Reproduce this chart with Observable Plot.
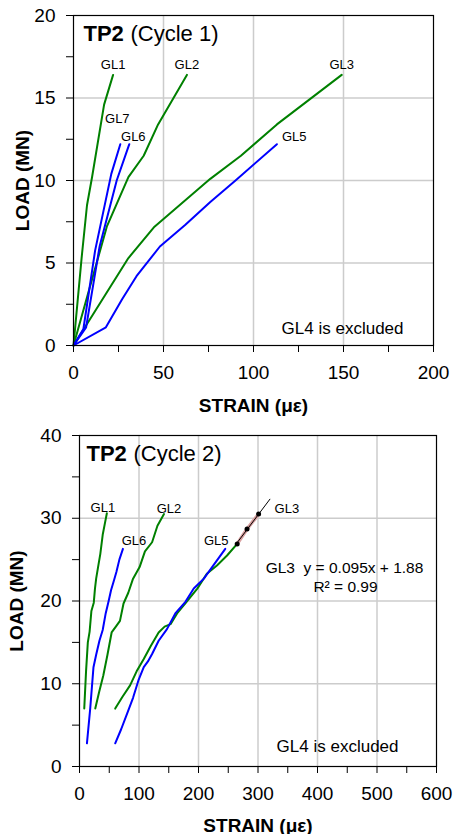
<!DOCTYPE html>
<html><head><meta charset="utf-8">
<script src="https://cdn.jsdelivr.net/npm/d3@7"></script>
<script src="https://cdn.jsdelivr.net/npm/@observablehq/plot@0.6"></script>
<style>
body{margin:0;background:#fff;font-family:"Liberation Sans",Arial,sans-serif;}
#c1,#c2{display:block;line-height:0}
svg{display:block;overflow:visible}
</style></head><body>
<div id="c1"></div><div id="c2"></div>
<script>
// ---------- Cycle 1 data ----------
const c1Series = ["GL1","GL2","GL3","GL5","GL6","GL7"];
const c1GL1 = [[0,0],[4.5,5.3],[7.5,8.5],[10.3,10.2],[17,14.6],[22,16.4]];
const c1GL2 = [[0,0],[18.5,7.2],[30.5,10.2],[39,11.5],[47,13.4],[63,16.4]];
const c1GL3 = [[0,0],[30.5,5.3],[45,7.2],[76,10.1],[93,11.5],[113,13.4],[149,16.4]];
const c1GL5 = [[0,0],[18,1.1],[27,2.8],[35,4.2],[48,6],[62,7.3],[76,8.7],[90,10],[113,12.2]];
const c1GL6 = [[0,0],[7,1.1],[14.5,6],[24,10],[31,12.2]];
const c1GL7 = [[0,0],[5.5,1.0],[12,5.75],[21,10.4],[26,12.2]];
const c1Ticks = {xAll:[0,25,50,75,100,125,150,175,200], xMajor:[0,50,100,150,200],
                 yAll:[0,2.5,5,7.5,10,12.5,15,17.5,20], yMajor:[0,5,10,15,20]};

// ---------- Cycle 2 data ----------
const c2Series = ["GL1","GL2","GL3","GL5","GL6"];
const c2GL1 = [[8,7],[11,11.5],[14,15],[17,16.3],[20,18.8],[24,19.8],[26,21.5],[28,22.7],[31,24],[35,25.7],[39,28],[43,29.5],[46,30.6]];
const c2GL2 = [[26.5,7],[33,9],[40,11],[47,13.5],[54,16.2],[62,17],[68,17.6],[74,19.7],[82,21],[90,22.7],[101,24.1],[110,26],[122,27.1],[131,29.1],[142,30.5]];
const c2GL3 = [[60,7],[72,8.4],[85,9.8],[96,11.5],[108,13],[120,14.6],[133,16.2],[143,16.9],[153,17.2],[164,18.5],[181,20],[198,21.5],[214,23.3],[231,24.3],[248,25.5],[265,26.9]];
const c2GL5 = [[60,2.8],[70,4.5],[80,6.4],[90,8.3],[99,10.4],[108,12],[115,12.7],[122,13.6],[133,15.2],[147,16.6],[161,18.5],[178,19.9],[192,21.5],[209,22.7],[225,24.3],[245,26.3]];
const c2GL6 = [[12.5,2.8],[18,7],[23.5,12],[28,13.5],[33.5,15.2],[39,16.5],[44,18.5],[49,20],[53,21.3],[58,22.5],[62,23.5],[67,25],[73,26.3]];
const c2FitPts = [[265,26.9],[281.6,28.7],[301,30.5]];
const c2Trend = [[265,27.05],[320,32.3]];
const c2Ticks = {xAll:[0,50,100,150,200,250,300,350,400,450,500,550,600], xMajor:[0,100,200,300,400,500,600],
                 yAll:[0,5,10,15,20,25,30,35,40], yMajor:[0,10,20,30,40]};

const titles = [["TP2","(Cycle 1)"],["TP2","(Cycle 2)"]];
const xLabel = "STRAIN (με)";
const yLabel = "LOAD (MN)";
const note = "GL4 is excluded";
const eqText = ["GL3  y = 0.095x + 1.88", "R² = 0.99"];

// ---------- styles ----------
const FONT = "'Liberation Sans', Arial, sans-serif";
const colorOf = {GL1:"#008000",GL2:"#008000",GL3:"#008000",GL5:"#0000ff",GL6:"#0000ff",GL7:"#0000ff"};

function rows(seriesNames, arrs){
  const out = [];
  seriesNames.forEach((s,i)=>arrs[i].forEach(([x,y])=>out.push({series:s,strain:x,load:y})));
  return out;
}

function chart(opts){
  const {series, arrs, ticks, xDomain, yDomain, margins, height, title, titleDx,
         labelPos, yLabelDx, extra, noteDx, noteDy, anchorPoint} = opts;
  const data = rows(series, arrs);
  const labelMarks = series.map((s,i)=>{
    const last = anchorPoint && anchorPoint[s] ? anchorPoint[s] : arrs[i][arrs[i].length-1];
    const p = labelPos[s];
    return Plot.text([{x:last[0],y:last[1],t:s}], {x:"x", y:"y", text:"t", dx:p.dx, dy:p.dy,
      textAnchor:p.anchor, lineAnchor:"middle", fontSize:13, fill:"black"});
  });
  const xMaj = new Set(ticks.xMajor), yMaj = new Set(ticks.yMajor);
  return Plot.plot({
    width:454, height,
    marginTop:margins[0], marginRight:margins[1], marginBottom:margins[2], marginLeft:margins[3],
    style:{fontFamily:FONT, fontSize:"19px", background:"white", overflow:"visible"},
    x:{domain:xDomain, label:null},
    y:{domain:yDomain, label:null},
    marks:[
      Plot.gridX(ticks.xMajor.slice(1,-1), {stroke:"#cccccc", strokeOpacity:1, strokeWidth:1.5}),
      Plot.gridY(ticks.yMajor.slice(1,-1), {stroke:"#cccccc", strokeOpacity:1, strokeWidth:1.5}),
      Plot.line(data, {x:"strain", y:"load", z:"series", stroke:d=>colorOf[d.series], strokeWidth:2}),
      ...(extra||[]),
      Plot.frame({stroke:"black", strokeWidth:1.2}),
      Plot.axisX(ticks.xAll, {tickSize:7, tickPadding:13, label:null, fontSize:19,
        tickFormat:d=>xMaj.has(d)?String(d):""}),
      Plot.axisY(ticks.yAll, {tickSize:7, tickPadding:11, label:null, fontSize:19,
        tickFormat:d=>yMaj.has(d)?String(d):""}),
      ...labelMarks,
      Plot.text([title[0]], {frameAnchor:"top-left", dx:titleDx, dy:18, textAnchor:"start", lineAnchor:"middle", fontWeight:"bold", fontSize:22}),
      Plot.text([title[1]], {frameAnchor:"top-left", dx:titleDx+47, dy:18, textAnchor:"start", lineAnchor:"middle", fontSize:22}),
      Plot.text([yLabel], {frameAnchor:"left", dx:yLabelDx, rotate:-90, textAnchor:"middle", lineAnchor:"middle", fontWeight:"bold", fontSize:19}),
      Plot.text([xLabel], {frameAnchor:"bottom", dy:opts.xLabelDy, textAnchor:"middle", lineAnchor:"middle", fontWeight:"bold", fontSize:19}),
      Plot.text([note], {frameAnchor:"bottom-right", dx:noteDx, dy:noteDy, textAnchor:"end", lineAnchor:"middle", fontSize:17})
    ]
  });
}

const c1 = chart({
  series:c1Series, arrs:[c1GL1,c1GL2,c1GL3,c1GL5,c1GL6,c1GL7], ticks:c1Ticks,
  xDomain:[0,200], yDomain:[0,20], margins:[15,21,75,73], height:420,
  title:titles[0], titleDx:10, yLabelDx:-51, xLabelDy:60, noteDx:-30, noteDy:-17,
  labelPos:{GL1:{dx:0,dy:-10,anchor:"middle"},GL2:{dx:0,dy:-10,anchor:"middle"},GL3:{dx:0,dy:-10,anchor:"middle"},
            GL5:{dx:5,dy:-7,anchor:"start"},GL6:{dx:4,dy:-7,anchor:"middle"},GL7:{dx:-3,dy:-25,anchor:"middle"}}
});
document.getElementById("c1").appendChild(c1);

const fitRows = c2FitPts.map(([x,y])=>({strain:x,load:y}));
const trendRows = c2Trend.map(([x,y])=>({strain:x,load:y}));
const c2 = chart({
  series:c2Series, arrs:[c2GL1,c2GL2,c2GL3,c2GL5,c2GL6], ticks:c2Ticks,
  xDomain:[0,600], yDomain:[0,40], margins:[15,18,68,79], height:414,
  title:titles[1], titleDx:7, yLabelDx:-63, xLabelDy:59, noteDx:-38, noteDy:-20,
  anchorPoint:{GL3:c2FitPts[c2FitPts.length-1]},
  labelPos:{GL1:{dx:-4,dy:-5,anchor:"middle"},GL2:{dx:5,dy:-5,anchor:"middle"},GL3:{dx:16,dy:-5,anchor:"start"},
            GL5:{dx:-9,dy:-8,anchor:"middle"},GL6:{dx:11,dy:-8,anchor:"middle"}},
  extra:[
    Plot.line(fitRows, {x:"strain", y:"load", stroke:"#d9a0a0", strokeWidth:3.5}),
    Plot.line(trendRows, {x:"strain", y:"load", stroke:"black", strokeWidth:1}),
    Plot.dot(fitRows, {x:"strain", y:"load", r:2.5, fill:"black", stroke:null}),
    Plot.text([eqText[0]], {frameAnchor:"top-left", dx:265, dy:133, textAnchor:"middle", lineAnchor:"middle", fontSize:15.5}),
    Plot.text([eqText[1]], {frameAnchor:"top-left", dx:266, dy:151.5, textAnchor:"middle", lineAnchor:"middle", fontSize:15.5})
  ]
});
document.getElementById("c2").appendChild(c2);
</script></body></html>
